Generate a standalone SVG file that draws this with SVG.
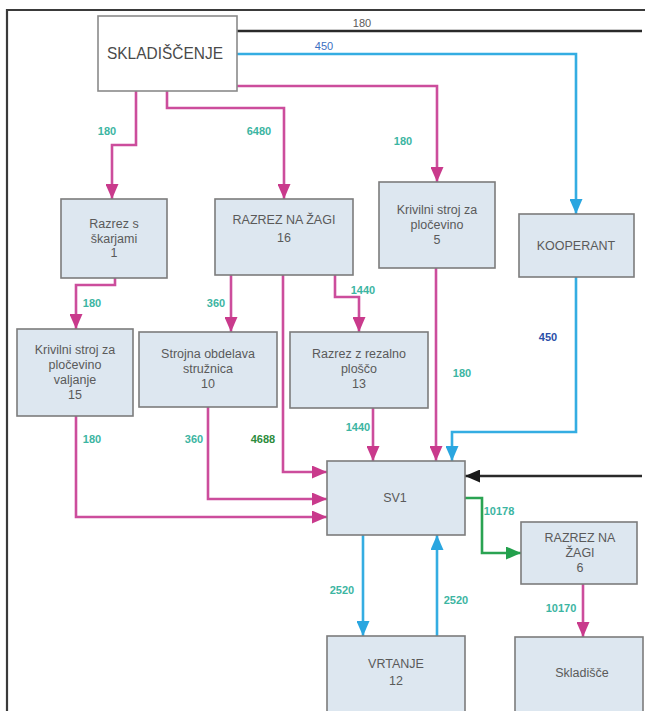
<svg xmlns="http://www.w3.org/2000/svg" width="645" height="711" viewBox="0 0 645 711">
  <style>
    .node { fill: #dde7f0; stroke: #7c7c7c; stroke-width: 1.6; }
    .store { fill: #ffffff; stroke: #8a8a8a; stroke-width: 1.6; }
    .nt { font-family: "Liberation Sans", Arial, sans-serif; font-size: 12.5px; fill: #5a5a5a; text-anchor: middle; }
    .big { font-size: 17px; fill: #4a4a4a; }
    .lbl { font-family: "Liberation Sans", Arial, sans-serif; font-size: 11px; font-weight: bold; fill: #3cb5a2; text-anchor: middle; }
    .pink { fill: none; stroke: #cc4d9c; stroke-width: 2.6; marker-end: url(#ahPink); }
    .cyan { fill: none; stroke: #34ade2; stroke-width: 2.6; marker-end: url(#ahCyan); }
    .green { fill: none; stroke: #2aa352; stroke-width: 2.6; marker-end: url(#ahGreen); }
    .black { fill: none; stroke: #2a2a2a; stroke-width: 2.6; }
  </style>
  <defs>
    <marker id="ahPink" markerUnits="userSpaceOnUse" markerWidth="15" markerHeight="13" refX="15" refY="6.5" orient="auto">
      <path d="M0,0 L15,6.5 L0,13 Z" fill="#c93a8c"/>
    </marker>
    <marker id="ahCyan" markerUnits="userSpaceOnUse" markerWidth="15" markerHeight="13" refX="15" refY="6.5" orient="auto">
      <path d="M0,0 L15,6.5 L0,13 Z" fill="#2aa6e0"/>
    </marker>
    <marker id="ahGreen" markerUnits="userSpaceOnUse" markerWidth="15" markerHeight="13" refX="15" refY="6.5" orient="auto">
      <path d="M0,0 L15,6.5 L0,13 Z" fill="#22a04c"/>
    </marker>
    <marker id="ahBlack" markerUnits="userSpaceOnUse" markerWidth="15" markerHeight="13" refX="15" refY="6.5" orient="auto">
      <path d="M0,0 L15,6.5 L0,13 Z" fill="#1a1a1a"/>
    </marker>
  </defs>

  <rect width="645" height="711" fill="#ffffff"/>

  <!-- page frame: left and top edges only -->
  <path d="M7,711 V10 H645" fill="none" stroke="#3a3a3a" stroke-width="2.2"/>

  <!-- connectors -->
  <g id="connectors">
    <path class="black" d="M237,31 H642"/>
    <path class="cyan" d="M237,54 H576 V214"/>
    <path class="pink" d="M237,86 H437 V182"/>
    <path class="pink" d="M167,91 V108 H284 V199"/>
    <path class="pink" d="M136,91 V145 H112 V199"/>
    <path class="pink" d="M115,278 V285 H76 V329"/>
    <path class="pink" d="M231,275 V332"/>
    <path class="pink" d="M335,275 V297 H359 V332"/>
    <path class="pink" d="M283,275 V472 H327"/>
    <path class="pink" d="M208,407 V499 H327"/>
    <path class="pink" d="M76,416 V517 H327"/>
    <path class="pink" d="M373,408 V461"/>
    <path class="pink" d="M436,268 V461"/>
    <path class="cyan" d="M576,277 V432 H452 V461"/>
    <path class="black" d="M642,476 H465" marker-end="url(#ahBlack)"/>
    <path class="green" d="M465,498 H482 V553 H521"/>
    <path class="cyan" d="M363,535 V636"/>
    <path class="cyan" d="M437,636 V535"/>
    <path class="pink" d="M583,584 V637"/>

    <text x="362" y="27" font-family="Liberation Sans, Arial, sans-serif" font-size="11" fill="#5a5a5a" text-anchor="middle">180</text>
    <text x="324" y="50" font-family="Liberation Sans, Arial, sans-serif" font-size="11" fill="#3b6fc2" text-anchor="middle">450</text>
    <text class="lbl" x="107" y="135">180</text>
    <text class="lbl" x="259" y="135">6480</text>
    <text class="lbl" x="403" y="145">180</text>
    <text class="lbl" x="92" y="307">180</text>
    <text class="lbl" x="216" y="307">360</text>
    <text class="lbl" x="363" y="294">1440</text>
    <text class="lbl" x="92" y="443">180</text>
    <text class="lbl" x="194" y="443">360</text>
    <text class="lbl" x="263" y="443" style="fill:#2c8c3c">4688</text>
    <text class="lbl" x="358" y="431">1440</text>
    <text class="lbl" x="462" y="377">180</text>
    <text class="lbl" x="548" y="341" style="fill:#2b4fa8">450</text>
    <text class="lbl" x="342" y="594">2520</text>
    <text class="lbl" x="456" y="604">2520</text>
    <text class="lbl" x="499" y="515">10178</text>
    <text class="lbl" x="561" y="612">10170</text>
  </g>

  <g id="skladiscenje">
    <rect class="store" x="98" y="16" width="139" height="75"/>
    <text class="nt big" x="165" y="59" textLength="116" lengthAdjust="spacingAndGlyphs">SKLADIŠČENJE</text>
  </g>

  <g id="razrez-skarje">
    <rect class="node" x="61" y="199" width="106" height="79"/>
    <text class="nt" x="114" y="228">Razrez s</text>
    <text class="nt" x="114" y="243">škarjami</text>
    <text class="nt" x="114" y="257">1</text>
  </g>

  <g id="razrez-zaga-16">
    <rect class="node" x="215" y="199" width="138" height="76"/>
    <text class="nt" x="284" y="224">RAZREZ NA ŽAGI</text>
    <text class="nt" x="284" y="242">16</text>
  </g>

  <g id="krivilni-5">
    <rect class="node" x="379" y="182" width="116" height="86"/>
    <text class="nt" x="437" y="214">Krivilni stroj za</text>
    <text class="nt" x="437" y="229">pločevino</text>
    <text class="nt" x="437" y="244">5</text>
  </g>

  <g id="kooperant">
    <rect class="node" x="519" y="214" width="115" height="63"/>
    <text class="nt" x="576" y="250">KOOPERANT</text>
  </g>

  <g id="krivilni-15">
    <rect class="node" x="17" y="329" width="116" height="87"/>
    <text class="nt" x="75" y="354">Krivilni stroj za</text>
    <text class="nt" x="75" y="369">pločevino</text>
    <text class="nt" x="75" y="384">valjanje</text>
    <text class="nt" x="75" y="399">15</text>
  </g>

  <g id="strojna-10">
    <rect class="node" x="139" y="332" width="138" height="75"/>
    <text class="nt" x="208" y="358">Strojna obdelava</text>
    <text class="nt" x="208" y="373">stružnica</text>
    <text class="nt" x="208" y="388">10</text>
  </g>

  <g id="razrez-plosca-13">
    <rect class="node" x="290" y="332" width="138" height="76"/>
    <text class="nt" x="359" y="358">Razrez z rezalno</text>
    <text class="nt" x="359" y="373">ploščo</text>
    <text class="nt" x="359" y="388">13</text>
  </g>

  <g id="sv1">
    <rect class="node" x="327" y="461" width="138" height="74"/>
    <text class="nt" x="395" y="502">SV1</text>
  </g>

  <g id="razrez-zaga-6">
    <rect class="node" x="521" y="522" width="116" height="62"/>
    <text class="nt" x="580" y="542">RAZREZ NA</text>
    <text class="nt" x="580" y="557">ŽAGI</text>
    <text class="nt" x="580" y="572">6</text>
  </g>

  <g id="vrtanje-12">
    <rect class="node" x="327" y="636" width="138" height="80"/>
    <text class="nt" x="396" y="668">VRTANJE</text>
    <text class="nt" x="396" y="685">12</text>
  </g>

  <g id="skladisce">
    <rect class="node" x="515" y="637" width="128" height="80"/>
    <text class="nt" x="582" y="677">Skladišče</text>
  </g>
</svg>
